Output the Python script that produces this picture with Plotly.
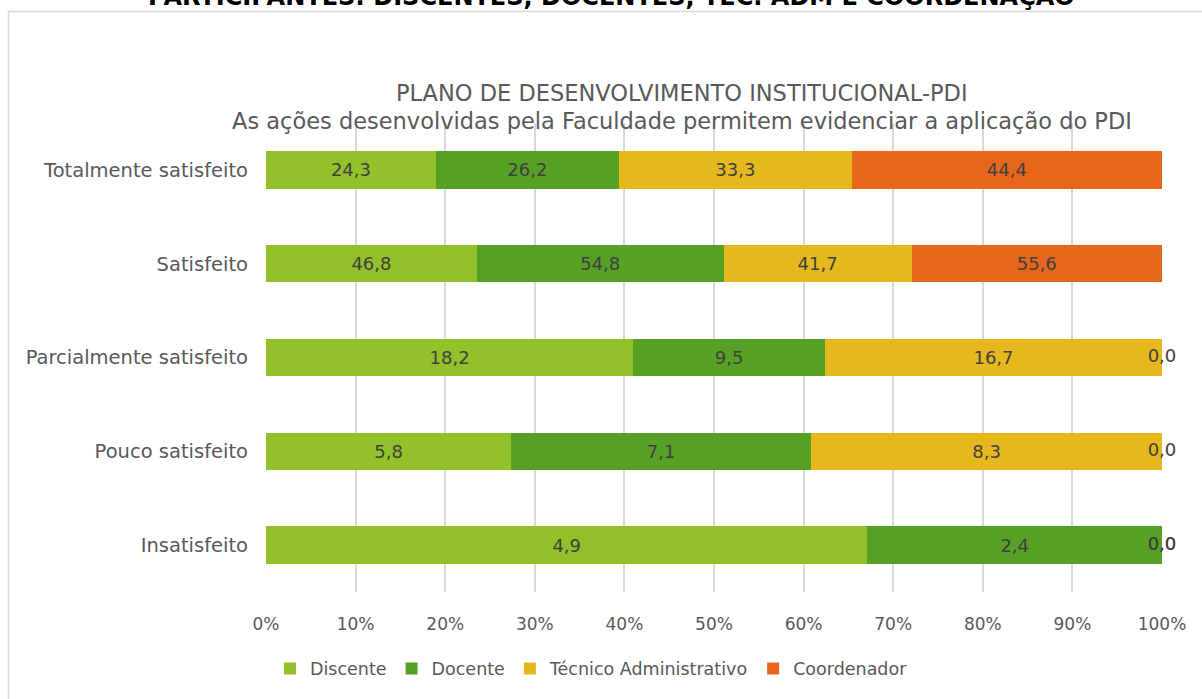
import plotly.graph_objects as go

categories = ["Totalmente satisfeito", "Satisfeito", "Parcialmente satisfeito", "Pouco satisfeito", "Insatisfeito"]
series_names = ["Discente", "Docente", "Técnico Administrativo", "Coordenador"]
discente = [24.3, 46.8, 18.2, 5.8, 4.9]
docente = [26.2, 54.8, 9.5, 7.1, 2.4]
tecnico = [33.3, 41.7, 16.7, 8.3, 0.0]
coordenador = [44.4, 55.6, 0.0, 0.0, 0.0]
tick_vals = [0, 10, 20, 30, 40, 50, 60, 70, 80, 90, 100]
tick_text = ["0%", "10%", "20%", "30%", "40%", "50%", "60%", "70%", "80%", "90%", "100%"]

colors = ["#92C12A", "#55A025", "#E6B81E", "#E8661C"]
FONT = "DejaVu Sans, sans-serif"
series = [discente, docente, tecnico, coordenador]

W, H = 1202, 699
L, R, T, B = 266, 40, 123, 105
pw, ph = W - L - R, H - T - B

def px(x):
    return (x - L) / pw

def py(y):
    return (H - B - y) / ph

fig = go.Figure()
for name, vals, col in zip(series_names, series, colors):
    fig.add_trace(go.Bar(
        y=categories, x=vals, name=name, orientation="h",
        marker=dict(color=col, line=dict(width=0)),
        text=[f"{v:.1f}".replace(".", ",") if v > 0 else "" for v in vals],
        textposition="inside", insidetextanchor="middle", constraintext="none",
        textfont=dict(size=18, color="#404040", family=FONT),
        width=0.4, hoverinfo="skip", cliponaxis=False,
    ))

# zero-value labels positioned at the cumulative share of each row
zx, zy, zt = [], [], []
for i, cat in enumerate(categories):
    total = sum(s[i] for s in series)
    cum = 0.0
    for s in series:
        cum += s[i]
        if s[i] == 0:
            zx.append(cum / total * 100)
            zy.append(cat)
            zt.append(f"{s[i]:.1f}".replace(".", ","))
fig.add_trace(go.Scatter(
    x=zx, y=zy, text=zt, mode="text", showlegend=False, cliponaxis=False,
    textfont=dict(size=18, color="#404040", family=FONT), hoverinfo="skip",
))

fig.update_layout(
    barmode="stack", barnorm="percent",
    width=W, height=H,
    margin=dict(l=L, r=R, t=T, b=B),
    plot_bgcolor="white", paper_bgcolor="white",
    font=dict(family=FONT, color="#595959", size=18),
    separators=",.",
    legend=dict(orientation="h", x=px(270), xanchor="left", y=py(671), yanchor="middle",
                font=dict(size=17.5, color="#595959", family=FONT), traceorder="normal",
                itemwidth=30, tracegroupgap=0),
    showlegend=True,
    xaxis=dict(range=[0, 100.001], tickvals=tick_vals, ticktext=tick_text, showgrid=True,
               gridcolor="#D9D9D9", gridwidth=1.5, zeroline=False, showline=False,
               tickfont=dict(size=17, color="#595959"), ticks="", ticklabelstandoff=20),
    yaxis=dict(categoryorder="array", categoryarray=categories[::-1], showgrid=False,
               showline=False, ticks="", tickfont=dict(size=19.5, color="#595959"),
               ticklabelstandoff=17),
    shapes=[dict(type="rect", xref="paper", yref="paper",
                 x0=px(8.5), x1=px(1215), y0=py(715), y1=py(11),
                 line=dict(color="#D9D9D9", width=1.5), fillcolor="rgba(0,0,0,0)", layer="below")],
    annotations=[
        dict(text="PLANO DE DESENVOLVIMENTO INSTITUCIONAL-PDI", xref="paper", yref="paper",
             x=px(682), y=py(93), xanchor="center", yanchor="middle", showarrow=False,
             font=dict(size=22.5, color="#595959", family=FONT)),
        dict(text="As ações desenvolvidas pela Faculdade permitem evidenciar a aplicação do PDI",
             xref="paper", yref="paper", x=px(682), y=py(121), xanchor="center", yanchor="middle",
             showarrow=False, font=dict(size=22.5, color="#595959", family=FONT)),
        dict(text="<b>PARTICIPANTES: DISCENTES, DOCENTES, TEC. ADM E COORDENAÇÃO</b>",
             xref="paper", yref="paper", x=px(611), y=py(-4), xanchor="center", yanchor="middle",
             showarrow=False, font=dict(size=24, color="#000000", family=FONT)),
    ],
)

fig.write_html("out.html", config={"displayModeBar": False},
               post_script="document.body.style.margin='0';")
